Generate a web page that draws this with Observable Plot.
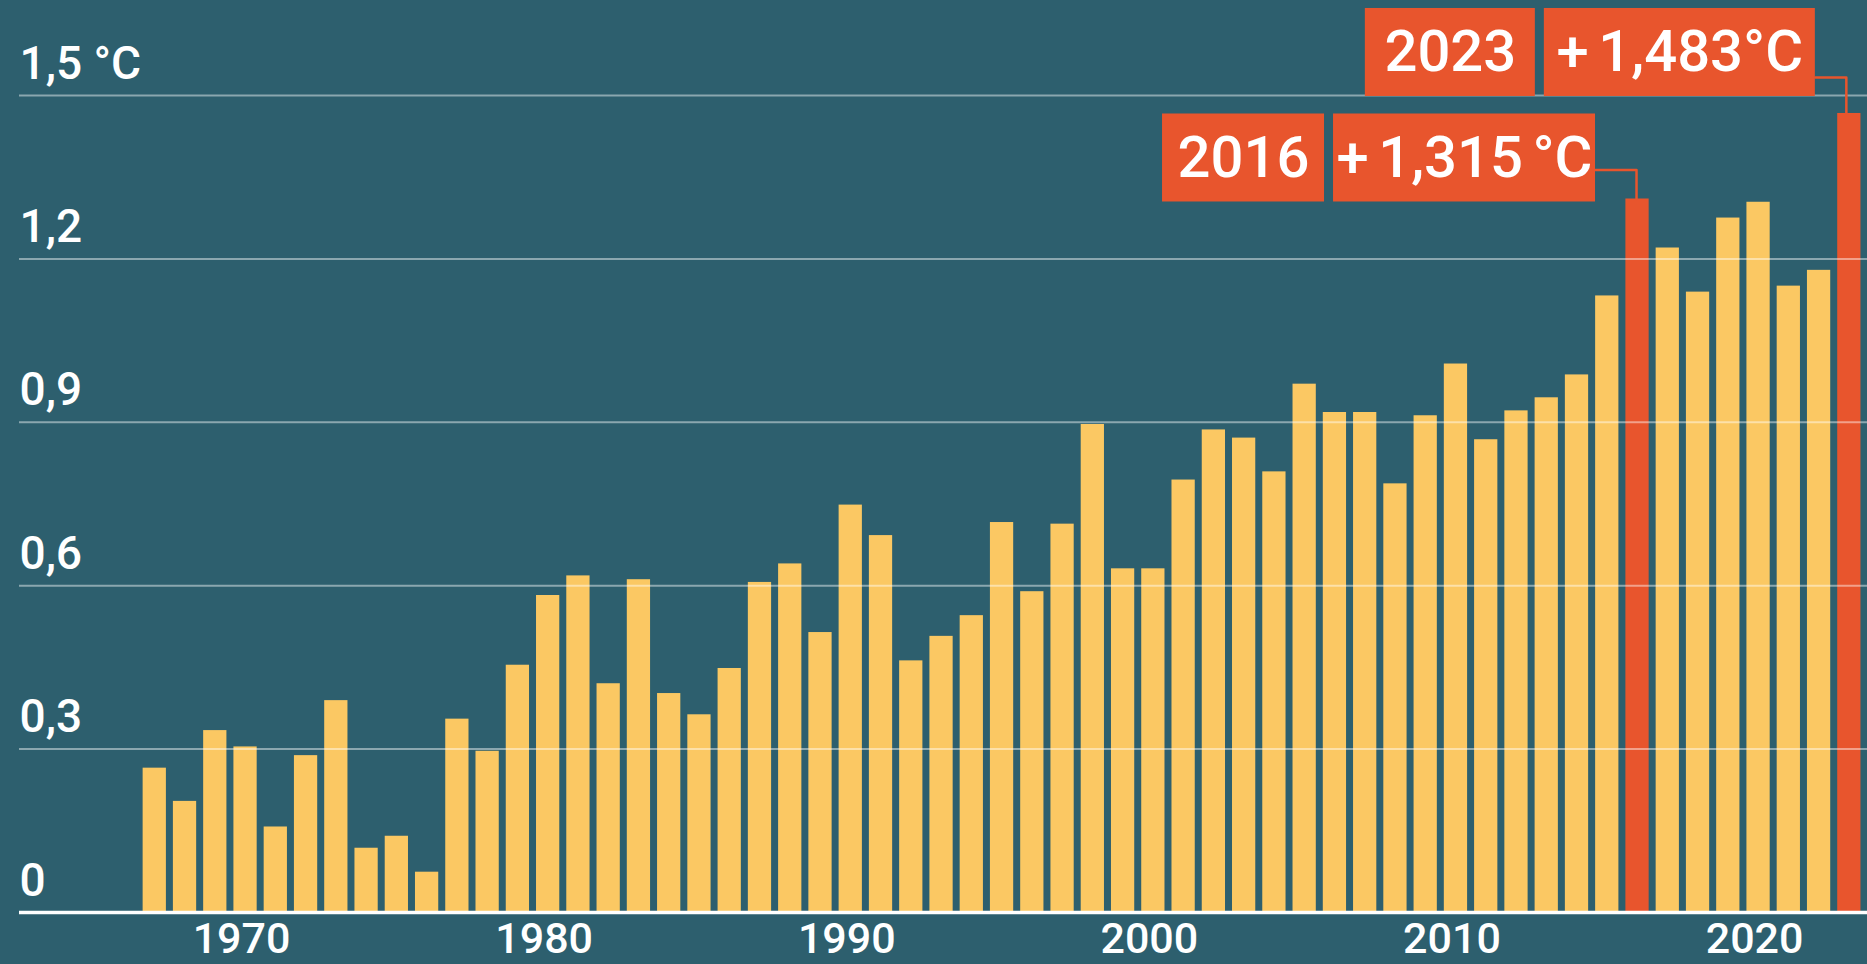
<!DOCTYPE html>
<html>
<head>
<meta charset="utf-8">
<script src="https://cdn.jsdelivr.net/npm/d3@7"></script>
<script src="https://cdn.jsdelivr.net/npm/@observablehq/plot@0.6"></script>
<style>
  html, body { margin: 0; padding: 0; background: #2d5f6e; overflow: hidden; }
  #chart svg { display: block; }
  #chart g[aria-label="text"] text { word-spacing: -5px; }
</style>
</head>
<body>
<div id="chart"></div>
<script>
// ---------- data ----------
const years = [
  1967, 1968, 1969, 1970, 1971, 1972, 1973, 1974, 1975, 1976,
  1977, 1978, 1979, 1980, 1981, 1982, 1983, 1984, 1985, 1986,
  1987, 1988, 1989, 1990, 1991, 1992, 1993, 1994, 1995, 1996,
  1997, 1998, 1999, 2000, 2001, 2002, 2003, 2004, 2005, 2006,
  2007, 2008, 2009, 2010, 2011, 2012, 2013, 2014, 2015, 2016,
  2017, 2018, 2019, 2020, 2021, 2022, 2023
];
const anomalies = [
  0.265, 0.204, 0.334, 0.304, 0.157, 0.288, 0.389, 0.118, 0.140, 0.074,
  0.355, 0.296, 0.454, 0.582, 0.618, 0.420, 0.611, 0.402, 0.363, 0.448,
  0.606, 0.640, 0.514, 0.748, 0.692, 0.462, 0.507, 0.545, 0.716, 0.589,
  0.713, 0.896, 0.631, 0.631, 0.794, 0.886, 0.871, 0.809, 0.970, 0.918,
  0.918, 0.787, 0.912, 1.007, 0.868, 0.921, 0.945, 0.987, 1.132, 1.310,
  1.220, 1.139, 1.275, 1.304, 1.150, 1.179, 1.467
];
const xTicks = [1970, 1980, 1990, 2000, 2010, 2020];
const yTicks = [0, 0.3, 0.6, 0.9, 1.2, 1.5];
const yTickLabels = ["0", "0,3", "0,6", "0,9", "1,2", "1,5 °C"];
const highlightYears = [2016, 2023];
const highlightYearLabels = ["2016", "2023"];
const highlightValueLabels = ["+ 1,315 °C", "+ 1,483°C"];

// ---------- styles / layout ----------
const COLORS = {
  bg: "#2d5f6e",
  bar: "#fbc863",
  hi: "#e8552d",
  text: "#ffffff"
};
const W = 1867, H = 964;
const frame = { marginTop: 95, marginRight: 0, marginBottom: 52, marginLeft: 19 };
const xScaleOpts = { type: "linear", domain: [1962.53, 2023.6] };
const yScaleOpts = { type: "linear", domain: [0, 1.5] };
const FONT = "Roboto, 'Liberation Sans', sans-serif";

// annotation layout, pixel offsets relative to the top of the highlighted bar
const annotLayout = [
  { boxRight: -42, boxBottom: 3,   valueW: 262, yearW: 162, elbowY: -29, elbowX: -1 },
  { boxRight: -34, boxBottom: -17, valueW: 271, yearW: 170, elbowY: -36, elbowX: -3 }
];
const BOX_H = 88, BOX_GAP = 9;

// ---------- build ----------
const data = years.map((year, i) => ({ year, value: anomalies[i] }));

const bars = Plot.rectY(data, {
  x1: d => d.year - 0.5,
  x2: d => d.year + 0.5,
  y: "value",
  insetLeft: 3.5,
  insetRight: 3.5,
  fill: d => highlightYears.includes(d.year) ? COLORS.hi : COLORS.bar
});

const baseOpts = {
  width: W,
  height: H,
  ...frame,
  x: xScaleOpts,
  y: yScaleOpts,
  color: { type: "identity" },
  style: { background: COLORS.bg, color: COLORS.text, fontFamily: FONT }
};

// first pass to get the scales
const probe = Plot.plot({ ...baseOpts, marks: [bars] });
const sx = probe.scale("x");
const sy = probe.scale("y");

const boxes = [];
const connectors = [];
highlightYears.forEach((yr, i) => {
  const d = data.find(r => r.year === yr);
  const px = sx.apply(yr);
  const py = sy.apply(d.value);
  const L = annotLayout[i];
  const vRight = px + L.boxRight;
  const vLeft = vRight - L.valueW;
  const yRight = vLeft - BOX_GAP;
  const yLeft = yRight - L.yearW;
  const bBottom = py + L.boxBottom;
  const bTop = bBottom - BOX_H;
  boxes.push({ x1: sx.invert(yLeft), x2: sx.invert(yRight), y1: sy.invert(bBottom), y2: sy.invert(bTop), label: highlightYearLabels[i] });
  boxes.push({ x1: sx.invert(vLeft), x2: sx.invert(vRight), y1: sy.invert(bBottom), y2: sy.invert(bTop), label: highlightValueLabels[i] });
  const ey = sy.invert(py + L.elbowY);
  const ex = sx.invert(px + L.elbowX);
  connectors.push({ k: i, x: sx.invert(vRight), y: ey });
  connectors.push({ k: i, x: ex, y: ey });
  connectors.push({ k: i, x: ex, y: d.value });
});

const chart = Plot.plot({
  ...baseOpts,
  marks: [
    bars,
    Plot.ruleY(yTicks.filter(t => t > 0), { stroke: "#ffffff", strokeOpacity: 0.45, strokeWidth: 2 }),
    Plot.ruleY([0], { stroke: "#ffffff", strokeWidth: 3.5 }),
    Plot.axisY({
      ticks: yTicks,
      tickFormat: t => yTickLabels[yTicks.indexOf(t)],
      anchor: "left",
      tickSize: 0,
      tickPadding: 0,
      textAnchor: "start",
      lineAnchor: "bottom",
      dx: 0,
      dy: -17,
      fontSize: 46,
      fontWeight: 500,
      color: COLORS.text,
      label: null
    }),
    Plot.axisX({
      ticks: xTicks,
      tickFormat: t => String(t),
      anchor: "bottom",
      tickSize: 0,
      tickPadding: 0,
      dx: -4,
      dy: 9.5,
      fontSize: 43,
      fontWeight: 500,
      color: COLORS.text,
      label: null
    }),
    Plot.line(connectors, { x: "x", y: "y", z: "k", stroke: COLORS.hi, strokeWidth: 2.5, curve: "linear" }),
    Plot.rect(boxes, { x1: "x1", x2: "x2", y1: "y1", y2: "y2", fill: COLORS.hi }),
    Plot.text(boxes, {
      x: d => (d.x1 + d.x2) / 2,
      y: d => (d.y1 + d.y2) / 2,
      text: "label",
      fill: COLORS.text,
      fontSize: 58,
      fontWeight: 500,
      lineAnchor: "middle"
    })
  ]
});

document.getElementById("chart").appendChild(chart);
</script>
</body>
</html>
